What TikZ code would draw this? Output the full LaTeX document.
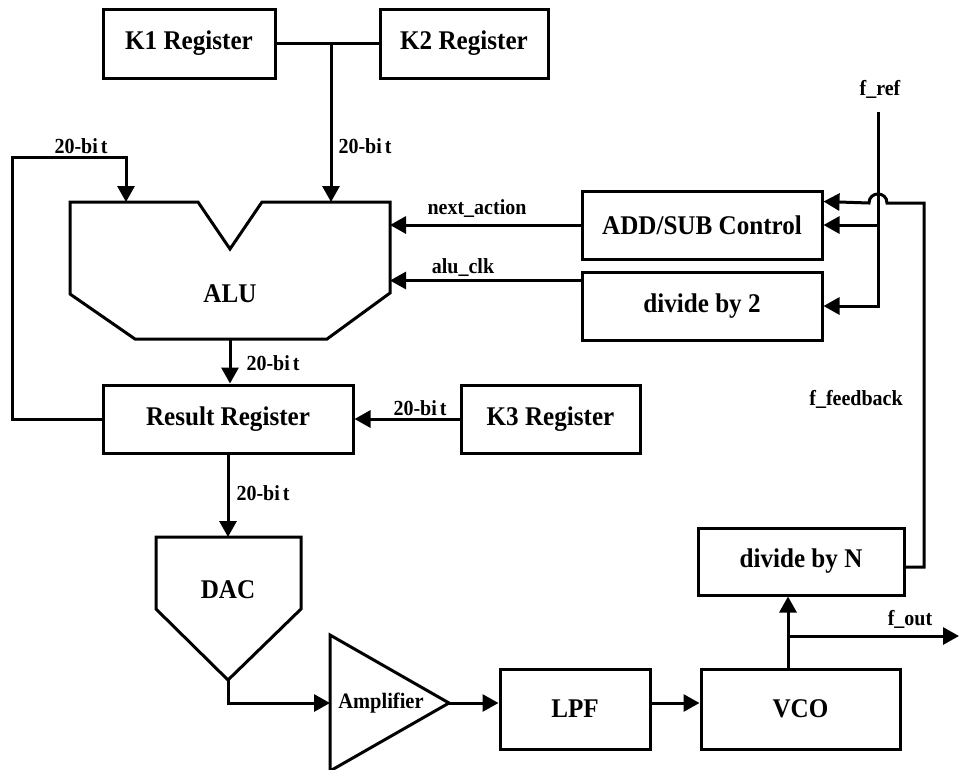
\documentclass[tikz,border=0pt]{standalone}
\usepackage{fontspec}
\setmainfont{Liberation Serif}
\newfontfamily\condserif{Liberation Serif}[FakeStretch=0.93]
\usetikzlibrary{arrows.meta,calc}
\begin{document}
\begin{tikzpicture}[x={(1pt,0)},y={(0,-1pt)},
  line width=3pt, line join=miter,
  blk/.style={draw, rectangle, inner sep=0pt, font=\condserif\fontsize{27}{30}\selectfont\bfseries},
  big/.style={inner sep=0pt, font=\condserif\fontsize{27}{30}\selectfont\bfseries},
  lbl/.style={inner sep=0pt, font=\condserif\fontsize{21.5}{24}\selectfont\bfseries},
  arr/.style={-{Triangle[length=16pt,width=17pt]}},
  shp/.style={draw, line width=3pt}]
\useasboundingbox (0,0) rectangle (960,769);

% blocks
\node[blk, minimum width=172pt, minimum height=69pt] (k1) at (189,43.5) {K1 Register};
\node[blk, minimum width=168pt, minimum height=69pt] (k2) at (464,43.5) {K2 Register};
\node[blk, minimum width=240pt, minimum height=68pt] (add) at (702,225) {ADD/SUB Control};
\node[blk, minimum width=240pt, minimum height=68pt] (div2) at (702,306) {divide by 2};
\node[blk, minimum width=250pt, minimum height=68pt] (res) at (228,419) {Result Register};
\node[blk, minimum width=179pt, minimum height=68pt] (k3) at (550.5,419) {K3 Register};
\node[blk, minimum width=206pt, minimum height=67pt] (divn) at (801,561.5) {divide by N};
\node[blk, minimum width=150pt, minimum height=80pt] (lpf) at (575,709) {LPF};
\node[blk, minimum width=199pt, minimum height=80pt] (vco) at (800.5,709) {VCO};

% ALU shape
\draw[shp] (70,202) -- (198,202) -- (230,249) -- (262,202) -- (390,202) -- (390,293)
  -- (327,339) -- (135,339) -- (70,294) -- cycle;
\node[big] (alu) at (230,294) {ALU};
\coordinate (aluin1) at (126,202);
\coordinate (aluin2) at (331,202);
\coordinate (alurt) at (390,202);
\coordinate (alubot) at (230,339);

% DAC shape
\draw[shp] (156,537) -- (301,537) -- (301,609) -- (228,680) -- (156,609) -- cycle;
\node[big] (dac) at (228,590) {DAC};
\coordinate (dactop) at (228,537);
\coordinate (dacout) at (228,680);

% Amplifier
\draw[shp] (330,635) -- (449,703) -- (330,771) -- cycle;
\node[inner sep=0pt, font=\condserif\fontsize{22}{24}\selectfont\bfseries] (amp) at (381,703) {Amplifier};
\coordinate (ampin) at (330,703);
\coordinate (ampout) at (449,703);

% connectors
\coordinate (kj) at (331,43.5);
\draw (k1.east) -- (k2.west);
\draw[arr] (kj) -- (aluin2);
\coordinate (fbA) at (12,157);
\draw[arr] (res.west) -| (fbA) -| (aluin1);
\draw[arr] (add.west) -- (add.west -| alurt);
\coordinate (clk) at ([yshift=-10pt]div2.north west);
\draw[arr] (clk) -- (clk -| alurt);
\draw[arr] (alubot) -- (alubot |- res.north);
\draw[arr] (k3.west) -- (res.east);
\draw[arr] (res.south) -- (dactop);
\draw[arr] (dacout) |- (ampin);
\draw[arr] (ampout) -- (ampout -| lpf.west);
\draw[arr] (lpf.east |- ampout) -- (vco.west |- ampout);
\coordinate (vcot) at (788,669);
\draw[arr] (vcot) -- (vcot |- divn.south);
\coordinate (br) at (788,636);
\coordinate (fout) at (959,636);
\draw[arr] (br) -- (fout);

% f_ref
\coordinate (fref) at (878,112);
\draw[arr] (fref) |- (div2.east);
\draw[arr] (fref |- add.east) -- (add.east);

% feedback from divide by N
\coordinate (fbo) at ([yshift=-5.5pt]divn.east);
\coordinate (addin) at ([yshift=-12pt]add.north east);
\coordinate (fbc) at (924,567);
\draw[arr] (fbo) -- (fbc) |- (887,203) .. controls (887,191) and (869,191) .. (869,203) -- (addin);

% labels
\node[lbl] (l1) at (365,146) {20-bi\kern3pt t};
\node[lbl] (l2) at (81,146) {20-bi\kern3pt t};
\node[lbl] (l3) at (477,209) {next\_action};
\node[lbl] (l4) at (463,268) {alu\_clk};
\node[lbl] (l5) at (273,363) {20-bi\kern3pt t};
\node[lbl] (l6) at (420,408) {20-bi\kern3pt t};
\node[lbl] (l7) at (263,493) {20-bi\kern3pt t};
\node[lbl] (l8) at (880,89) {f\_ref};
\node[lbl] (l9) at (856,399) {f\_feedback};
\node[lbl] (l10) at (910,619) {f\_out};
\end{tikzpicture}
\end{document}
